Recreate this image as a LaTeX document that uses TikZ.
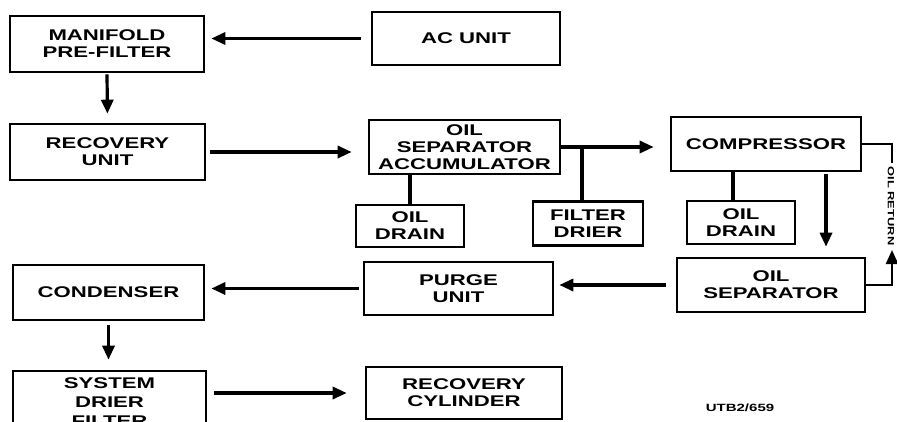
\documentclass[tikz,border=0pt]{standalone}
\usepackage{fontspec}
\newfontfamily\lbl{Liberation Sans}[FakeStretch=1.43]
\usetikzlibrary{arrows.meta}
\begin{document}
\begin{tikzpicture}[x=1pt,y=-1pt,
  blk/.style={draw, line width=2.6pt, align=center, inner sep=0pt,
    font=\lbl\bfseries\fontsize{15.5}{17}\selectfont},
  con/.style={line width=3.2pt},
  arr/.style={con, -{Triangle[length=14pt,width=12pt]}}]
\useasboundingbox (0,0) rectangle (897,421);
\begin{scope}
\clip (0,0) rectangle (897,421);
\node[blk, minimum width=194pt, minimum height=56pt] (man) at (107,44) {MANIFOLD\\PRE-FILTER};
\node[blk, minimum width=188pt, minimum height=53pt] (ac) at (466,38.5) {AC UNIT};
\node[blk, minimum width=195pt, minimum height=56pt] (rec) at (107.5,152) {RECOVERY\\UNIT};
\node[blk, minimum width=191pt, minimum height=54pt] (acc) at (464.5,147) {OIL\\SEPARATOR\\ACCUMULATOR};
\node[blk, minimum width=108pt, minimum height=42pt] (d1) at (410,226) {OIL\\DRAIN};
\node[blk, minimum width=110pt, minimum height=44pt] (fd) at (588,223.5) {FILTER\\DRIER};
\node[blk, minimum width=190pt, minimum height=54pt] (comp) at (766,144) {COMPRESSOR};
\node[blk, minimum width=108pt, minimum height=43pt] (d2) at (741,222.5) {OIL\\DRAIN};
\node[blk, minimum width=188pt, minimum height=54pt] (sep) at (771,285) {OIL\\SEPARATOR};
\node[blk, minimum width=189pt, minimum height=53pt] (pur) at (458.5,288.5) {PURGE\\UNIT};
\node[blk, minimum width=191pt, minimum height=55pt] (cnd) at (108.5,292.5) {CONDENSER};
\node[blk, minimum width=193pt, minimum height=62pt, font=\lbl\bfseries\fontsize{15.5}{19}\selectfont] (sdf) at (109.5,402) {SYSTEM\\DRIER\\FILTER};
\node[blk, minimum width=196pt, minimum height=52pt] (rcy) at (464,393) {RECOVERY\\CYLINDER};
\end{scope}
\node[font=\lbl\bfseries\fontsize{10.5}{12}\selectfont, inner sep=0pt] (ref) at (740,408) {UTB2/659};

% connectors
\draw[arr, shorten <=10pt, shorten >=6pt] (ac.west) -- (ac.west -| man.east);
\draw[arr, shorten <=1pt, shorten >=9pt] (man.south) -- (rec.north);
\draw[arr, shorten <=4pt, shorten >=16pt] (rec.east) -- (rec.east -| acc.west);
\draw[arr, shorten >=16pt] (acc.east) -- (acc.east -| comp.west);
\coordinate (j) at (582,147);
\draw[con] (j) -- (j |- fd.north);
\draw[con] (d1.north) -- (d1.north |- acc.south);
\draw[con] ([xshift=-8pt]d2.north) -- ([xshift=-8pt]d2.north |- comp.south);
\coordinate (cs) at (826,171);
\draw[arr, shorten <=3pt, shorten >=10pt] (cs) -- (cs |- sep.north);
\draw[arr, shorten <=10pt, shorten >=5pt] (sep.west) -- (sep.west -| pur.east);
\draw[arr, shorten <=4pt, shorten >=6pt] (pur.west) -- (pur.west -| cnd.east);
\draw[arr, shorten <=4pt, shorten >=10pt] (cnd.south) -- (cnd.south |- sdf.north);
\draw[arr, shorten <=7pt, shorten >=18pt] (rcy.west -| sdf.east) -- (rcy.west);
% oil return
\coordinate (ort) at (892,163);
\coordinate (orb) at (892,250);
\draw[con, line width=2.4pt] (comp.east) -| (ort);
\draw[arr, line width=2.4pt] (sep.east) -| (orb);
\node[rotate=-90, font=\lbl\bfseries\fontsize{9}{10}\selectfont, inner sep=0pt] (orl) at (891,206) {OIL RETURN};
\end{tikzpicture}
\end{document}
